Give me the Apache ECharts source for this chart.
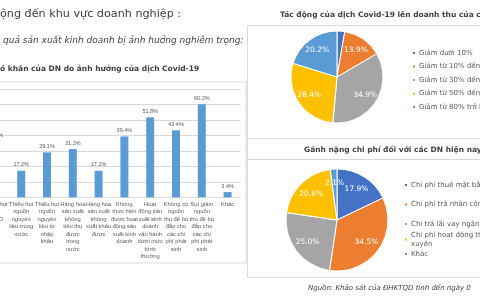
<!DOCTYPE html>
<html>
<head>
<meta charset="utf-8">
<script src="https://cdn.jsdelivr.net/npm/echarts@6/dist/echarts.min.js"></script>
<style>
  html, body { margin: 0; padding: 0; background: #fff; }
  #chart { width: 480px; height: 300px; }
</style>
</head>
<body>
<div id="chart"></div>
<script>
// bar chart: difficulties of enterprises
var barCats = [
  'Thiếu hụt\nvốn\nSXKD',
  'Thiếu hụt\nnguồn\nnguyên\nliệu trong\nnước',
  'Thiếu hụt\nnguồn\nnguyên\nliệu từ\nnhập\nkhẩu',
  'Hàng hóa\nsản xuất\nkhông\ntiêu thụ\nđược\ntrong\nnước',
  'Hàng hóa\nsản xuất\nkhông\nxuất khẩu\nđược',
  'Không\nthực hiện\nđược hoạt\nđộng sản\nxuất kinh\ndoanh',
  'Hoạt\nđộng sản\nxuất kinh\ndoanh\nvận hành\ndưới mức\nbình\nthường',
  'Không có\nnguồn\nthu để bù\nđắp cho\ncác chi\nphí phát\nsinh',
  'Sụt giảm\nnguồn\nthu để bù\nđắp cho\ncác chi\nphí phát\nsinh',
  'Khác'
];
var barValues = [36.2, 17.2, 29.1, 31.2, 17.2, 39.4, 51.8, 43.4, 60.2, 3.4];

// pie 1: revenue impact
var revNames = ['Giảm dưới 10%', 'Giảm từ 10% đến dưới 30%', 'Giảm từ 30% đến dưới 50%',
  'Giảm từ 50% đến dưới 80%', 'Giảm từ 80% trở lên'];
var revValues = [2.7, 13.9, 34.9, 28.4, 20.2];

// pie 2: cost burden
var costNames = ['Chi phí thuê mặt bằng', 'Chi phí trả nhân công', 'Chi trả lãi vay ngân hàng',
  'Chi phí hoạt động thường\nxuyên', 'Khác'];
var costValues = [17.9, 34.5, 25.0, 20.6, 2.1];

var pieColors = ['#4472C4', '#ED7D31', '#A5A5A5', '#FFC000', '#5B9BD5'];
var txt = '#595959';
var font = 'DejaVu Sans';

function toPie(names, values) {
  return names.map(function (n, i) { return { name: n, value: values[i] }; });
}

function pieSeries(names, values, center, r) {
  return [{
    type: 'pie',
    center: center,
    radius: [0, r],
    data: toPie(names, values),
    label: { show: false },
    labelLine: { show: false },
    itemStyle: { borderColor: '#fff', borderWidth: 1 },
    emphasis: { disabled: true }
  }, {
    // transparent ring only used to place the labels further out
    type: 'pie',
    center: center,
    radius: [r * 0.32, r],
    data: toPie(names, values),
    silent: true,
    avoidLabelOverlap: false,
    itemStyle: { color: 'rgba(0,0,0,0)' },
    label: {
      show: true, position: 'inside', color: '#fff', fontFamily: font, fontSize: 7.5,
      formatter: function (p) { return p.value.toFixed(1) + '%'; }
    },
    labelLine: { show: false },
    emphasis: { disabled: true }
  }];
}

var legendBase = {
  orient: 'vertical',
  icon: 'rect',
  itemWidth: 4,
  itemHeight: 4,
  selectedMode: false,
  padding: 0,
  textStyle: { color: txt, fontFamily: font, fontSize: 7, lineHeight: 9, padding: [0, 0, 0, -2] }
};

var chart = echarts.init(document.getElementById('chart'));

var option = {
  animation: false,
  color: pieColors,
  title: [
    { text: 'ộng đến khu vực doanh nghiệp :', left: 0, top: 9, padding: 0,
      textStyle: { fontFamily: font, fontSize: 11.2, fontWeight: 'normal', color: '#3a3a3a' } },
    { text: 'quả sản xuất kinh doanh bị ảnh hưởng nghiêm trọng:', left: 3, top: 36, padding: 0,
      textStyle: { fontFamily: font, fontSize: 9, fontStyle: 'italic', fontWeight: 'normal', color: '#404040' } },
    { text: 'ó khăn của DN do ảnh hưởng của dịch Covid-19', left: 0, top: 65, padding: 0,
      textStyle: { fontFamily: font, fontSize: 7.5, fontWeight: 'bold', color: '#404040' } },
    { text: 'Tác động của dịch Covid-19 lên doanh thu của các DN', left: 280, top: 11, padding: 0,
      textStyle: { fontFamily: font, fontSize: 7.5, fontWeight: 'bold', color: '#404040' } },
    { text: 'Gánh nặng chi phí đối với các DN hiện nay', left: 304, top: 146, padding: 0,
      textStyle: { fontFamily: font, fontSize: 7.5, fontWeight: 'bold', color: '#404040' } },
    { text: 'Nguồn: Khảo sát của ĐHKTQD tính đến ngày 0', left: 308, top: 285, padding: 0,
      textStyle: { fontFamily: font, fontSize: 7, fontStyle: 'italic', fontWeight: 'normal', color: '#404040' } }
  ],
  grid: { left: -17.5, top: 89.2, width: 258, height: 108.1, outerBoundsMode: 'none', containLabel: false },
  xAxis: {
    type: 'category',
    data: barCats,
    axisLine: { lineStyle: { color: '#d9d9d9' } },
    axisTick: { show: false },
    axisLabel: { interval: 0, margin: 3, color: txt, fontFamily: 'Liberation Sans', fontSize: 5.8, lineHeight: 7.5, verticalAlign: 'top', hideOverlap: false }
  },
  yAxis: {
    type: 'value',
    min: 0, max: 70, interval: 10,
    axisLine: { show: false },
    axisTick: { show: false },
    axisLabel: { show: false },
    splitLine: { lineStyle: { color: '#d9d9d9' } }
  },
  legend: [
    Object.assign({}, legendBase, { data: revNames, left: 411, top: 48.5, itemGap: 4.5 }),
    Object.assign({}, legendBase, { data: costNames.slice(0, 3), left: 403, top: 180.5, itemGap: 10.5 }),
    Object.assign({}, legendBase, { data: costNames.slice(3), left: 403, top: 230.5, itemGap: 1 })
  ],
  graphic: [
    { type: 'rect', shape: { x: -5, y: 82, width: 251, height: 181 }, style: { fill: 'none', stroke: '#d9d9d9', lineWidth: 1 }, silent: true },
    { type: 'rect', shape: { x: 247.5, y: 25.5, width: 250, height: 252 }, style: { fill: 'none', stroke: '#d9d9d9', lineWidth: 1 }, silent: true },
    { type: 'line', shape: { x1: 247.5, y1: 138.5, x2: 490, y2: 138.5 }, style: { stroke: '#d9d9d9', lineWidth: 1 }, silent: true },
    { type: 'line', shape: { x1: 247.5, y1: 159.5, x2: 490, y2: 159.5 }, style: { stroke: '#d9d9d9', lineWidth: 1 }, silent: true }
  ],
  series: [{
    type: 'bar',
    data: barValues,
    barWidth: 8,
    itemStyle: { color: '#5B9BD5' },
    label: {
      show: true, position: 'top', distance: 3, color: txt, fontFamily: 'Liberation Sans', fontSize: 5.5,
      formatter: function (p) { return p.value.toFixed(1) + '%'; }
    },
    emphasis: { disabled: true }
  }]
    .concat(pieSeries(revNames, revValues, [337, 77], 46))
    .concat(pieSeries(costNames, costValues, [337, 220], 51))
};

chart.setOption(option);
</script>
</body>
</html>
